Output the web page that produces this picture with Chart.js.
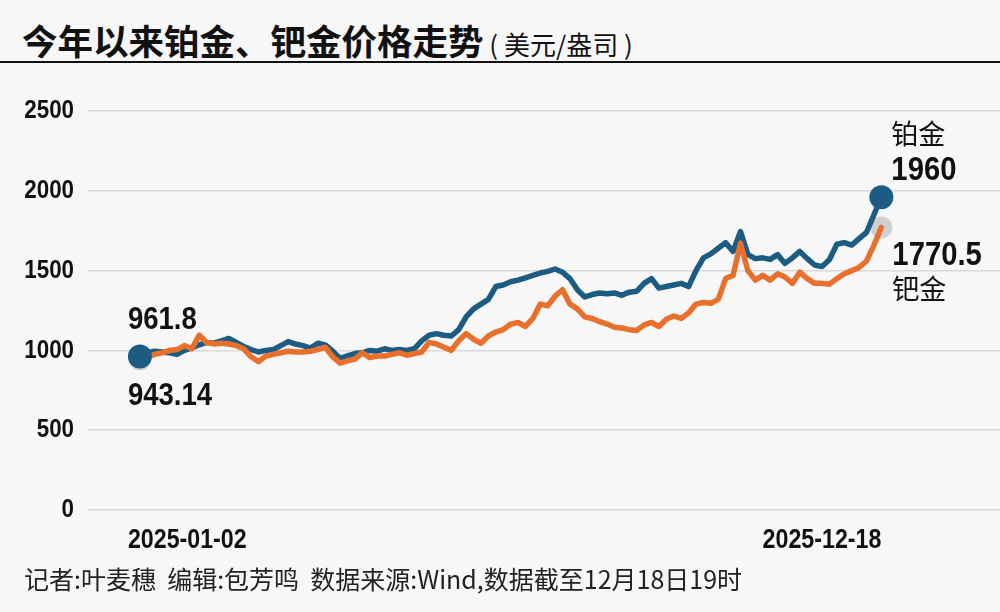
<!DOCTYPE html>
<html>
<head>
<meta charset="utf-8">
<script src="https://cdn.jsdelivr.net/npm/chart.js@4.4.1/dist/chart.umd.min.js"></script>
<style>
  html, body { margin: 0; padding: 0; background: #f7f7f7; }
  #wrap { position: relative; width: 1000px; height: 612px; overflow: hidden; background: #f7f7f7; }
  #title { position: absolute; left: 22px; top: 20px; font-family: "Noto Sans CJK SC", sans-serif; font-weight: bold;
           font-size: 35.5px; line-height: 40px; color: #111; white-space: nowrap; }
  #title span { font-size: 26px; font-weight: normal; }
  #rule { position: absolute; left: 0; top: 61px; width: 1000px; height: 2px; background: #111; }
  #foot { position: absolute; left: 24px; top: 563px; font-family: "Noto Sans CJK SC", sans-serif; font-size: 25px;
          line-height: 30px; color: #222; white-space: pre; }
  canvas { position: absolute; left: 0; top: 0; }
</style>
</head>
<body>
<div id="wrap">
  <div id="title">今年以来铂金、钯金价格走势<span> ( 美元/盎司 )</span></div>
  <div id="rule"></div>
  <canvas id="chart" width="1000" height="612"></canvas>
  <div id="foot">记者:叶麦穗  编辑:包芳鸣  数据来源:Wind,数据截至12月18日19时</div>
</div>
<script>
// price series (USD/oz), roughly every other trading day
const platinum = [
  961.8, 985, 995, 990, 985, 975, 1000, 1015, 1035, 1050,
  1045, 1060, 1075, 1050, 1025, 1005, 990, 1000, 1005, 1030,
  1055, 1040, 1030, 1015, 1045, 1035, 995, 950, 965, 980,
  985, 1000, 995, 1010, 1000, 1005, 1000, 1010, 1060, 1095,
  1105, 1095, 1090, 1130, 1210, 1260, 1290, 1320, 1400, 1410,
  1430, 1440, 1455, 1470, 1485, 1495, 1510, 1490, 1450, 1380,
  1335, 1350, 1360, 1355, 1360, 1345, 1365, 1370, 1420, 1450,
  1390, 1400, 1410, 1420, 1400, 1500, 1580, 1605, 1640, 1675,
  1620, 1745, 1600, 1575, 1580, 1570, 1600, 1545, 1580, 1620,
  1575, 1535, 1525, 1570, 1665, 1675, 1660, 1700, 1740, 1850,
  1960
];
const palladium = [
  943.14, 960, 975, 985, 1000, 1005, 1030, 1010, 1095, 1050,
  1040, 1045, 1040, 1030, 1010, 960, 930, 965, 975, 985,
  995, 990, 990, 995, 1005, 1020, 960, 920, 935, 945,
  985, 955, 965, 965, 975, 985, 970, 980, 990, 1050,
  1040, 1020, 1000, 1060, 1105, 1070, 1045, 1090, 1115, 1130,
  1165, 1175, 1150, 1200, 1290, 1280, 1340, 1380, 1290, 1260,
  1210, 1200, 1180, 1165, 1145, 1140, 1130, 1125, 1160, 1175,
  1150, 1195, 1215, 1200, 1235, 1290, 1300, 1295, 1320, 1450,
  1470, 1670, 1500, 1440, 1470, 1440, 1480, 1460, 1420, 1490,
  1450, 1420, 1420, 1415, 1450, 1480, 1500, 1520, 1560, 1660,
  1770.5
];
const seriesNames = ["铂金", "钯金"];
const dateLabels = ["2025-01-02", "2025-12-18"];
const yTicks = [0, 500, 1000, 1500, 2000, 2500];

const BLUE = "#1c5b82";
const ORANGE = "#e8702c";
const GREY = "rgba(200,201,204,0.85)";
const NUM_FONT = "'Liberation Sans', Arial, sans-serif";
const CJK_FONT = "'Noto Sans CJK SC', sans-serif";
const SQUEEZE = 0.86;   // the numbers in the picture are a condensed face

const last = platinum.length - 1;
const toXY = arr => arr.map((v, i) => ({ x: i, y: v }));
const ends = arr => [{ x: 0, y: arr[0] }, { x: last, y: arr[last] }];

// squeezed bold text, anchored at (x, y)
function narrowText(ctx, text, x, y, size, align) {
  ctx.save();
  ctx.font = "bold " + size + "px " + NUM_FONT;
  ctx.textAlign = align;
  ctx.textBaseline = "middle";
  ctx.translate(x, y);
  ctx.scale(SQUEEZE, 1);
  ctx.fillText(text, 0, 0);
  ctx.restore();
}

// tick numbers, end-point texts and the two dates
const labelPlugin = {
  id: "endLabels",
  afterDatasetsDraw(chart) {
    const { ctx, scales: { x, y }, chartArea } = chart;
    const x0 = x.getPixelForValue(0), x1 = x.getPixelForValue(last);
    ctx.save();
    ctx.fillStyle = "#111";

    yTicks.forEach(v => narrowText(ctx, String(v), chartArea.left - 14, y.getPixelForValue(v), 26, "right"));

    narrowText(ctx, String(platinum[0]), x0 - 12, y.getPixelForValue(platinum[0]) - 36, 32, "left");
    narrowText(ctx, String(palladium[0]), x0 - 12, y.getPixelForValue(palladium[0]) + 37, 32, "left");
    narrowText(ctx, String(platinum[last]), x1 + 10, y.getPixelForValue(platinum[last]) - 27, 34, "left");
    narrowText(ctx, String(palladium[last]), x1 + 11, y.getPixelForValue(palladium[last]) + 28, 34, "left");

    ctx.font = "27px " + CJK_FONT;
    ctx.textBaseline = "middle";
    ctx.textAlign = "left";
    ctx.fillText(seriesNames[0], x1 + 10, y.getPixelForValue(platinum[last]) - 63);
    ctx.fillText(seriesNames[1], x1 + 11, y.getPixelForValue(palladium[last]) + 61);

    const dy = chartArea.bottom + 31;
    narrowText(ctx, dateLabels[0], x0 - 12, dy, 27, "left");
    narrowText(ctx, dateLabels[1], x1, dy, 27, "right");
    ctx.restore();
  }
};

new Chart(document.getElementById("chart"), {
  type: "line",
  data: {
    datasets: [
      { data: ends(platinum), showLine: false, pointRadius: 12, pointBackgroundColor: BLUE,
        pointBorderWidth: 0, order: 0 },
      { data: toXY(palladium), borderColor: ORANGE, borderWidth: 5.5, pointRadius: 0,
        borderJoinStyle: "round", borderCapStyle: "round", order: 1 },
      { data: toXY(platinum), borderColor: BLUE, borderWidth: 5.5, pointRadius: 0,
        borderJoinStyle: "round", borderCapStyle: "round", order: 2 },
      { data: ends(palladium), showLine: false, pointRadius: 11, pointBackgroundColor: GREY,
        pointBorderWidth: 0, order: 3 }
    ]
  },
  options: {
    responsive: false,
    animation: false,
    events: [],
    layout: { autoPadding: false, padding: { top: 111, bottom: 102, left: 0, right: 0 } },
    plugins: { legend: { display: false }, tooltip: { enabled: false } },
    scales: {
      x: { type: "linear", min: -7, max: 116, display: false },
      y: {
        min: 0, max: 2500,
        afterBuildTicks(scale) { scale.ticks = yTicks.map(v => ({ value: v })); },
        afterFit(scale) { scale.width = 88; },
        ticks: { display: false },
        grid: { color: "#d9d9d9", lineWidth: 1.5, drawTicks: false },
        border: { display: false }
      }
    }
  },
  plugins: [labelPlugin]
});
</script>
</body>
</html>
